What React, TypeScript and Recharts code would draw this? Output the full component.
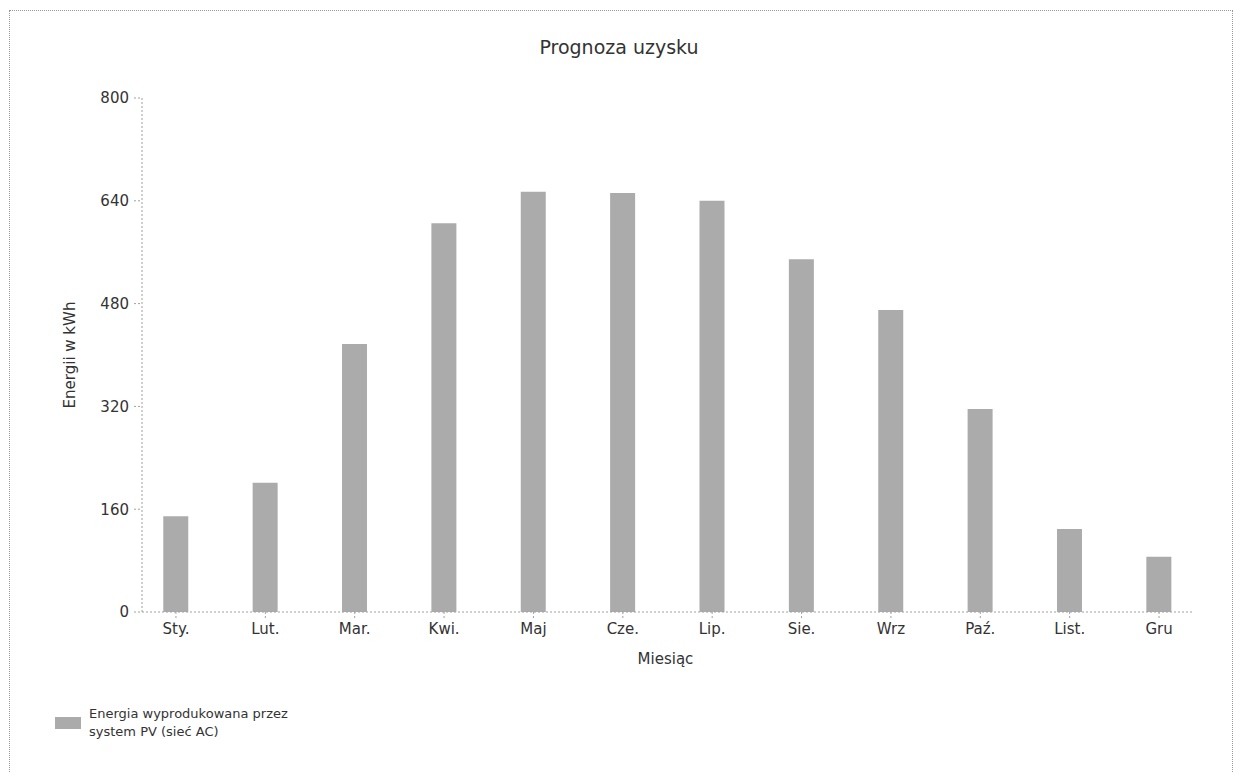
import React from "react";
import { BarChart, Bar, XAxis, YAxis } from "recharts";

const months = ["Sty.", "Lut.", "Mar.", "Kwi.", "Maj", "Cze.", "Lip.", "Sie.", "Wrz", "Paź.", "List.", "Gru"];
const energy = [149, 201, 417, 605, 654, 652, 640, 549, 470, 316, 129, 86];
const yTicks = [0, 160, 320, 480, 640, 800];
const monthIdx = months.map((_, i) => i);

const data = months.map((m, i) => ({ idx: i, month: m, energy: energy[i] }));

const FONT = "'DejaVu Sans', Verdana, sans-serif";
const TEXT = "#333";
const AXIS = "#a0a0a0";
const BAR = "#ababab";

const YLabel = (props: any) => {
	const { x, y, height } = props.viewBox;
	const cx = x + 70;
	const cy = y + height / 2;
	return (
		<text
			x={cx}
			y={cy}
			transform={`rotate(-90 ${cx} ${cy})`}
			textAnchor="middle"
			dominantBaseline="central"
			fill={TEXT}
			fontSize={15}
			fontFamily={FONT}
		>
			Energii w kWh
		</text>
	);
};

const XLabel = (props: any) => {
	const { x, y, width } = props.viewBox;
	return (
		<text
			x={x + width / 2 - 2}
			y={y + 47}
			textAnchor="middle"
			dominantBaseline="central"
			fill={TEXT}
			fontSize={15}
			fontFamily={FONT}
		>
			Miesiąc
		</text>
	);
};

export default function App() {
	return (
		<div style={{ position: "relative", width: 1238, height: 773, overflow: "hidden", background: "#fff", fontFamily: FONT }}>
			<style>{"body{margin:0}"}</style>
			<div
				style={{
					position: "absolute",
					left: 9,
					top: 10,
					width: 1224,
					height: 800,
					border: "1px dotted #999",
					boxSizing: "border-box",
				}}
			/>
			<div
				style={{
					position: "absolute",
					left: 0,
					top: 36,
					width: 1238,
					textAlign: "center",
					fontSize: 19,
					color: TEXT,
				}}
			>
				Prognoza uzysku
			</div>
			<BarChart width={1238} height={773} data={data} margin={{ top: 98, right: 45, bottom: 101, left: 0 }}>
				<XAxis
					dataKey="idx"
					type="number"
					domain={[-0.38, 11.38]}
					ticks={monthIdx}
					tickFormatter={(i: number) => months[i]}
					height={60}
					tickSize={6}
					tickMargin={5}
					stroke={AXIS}
					strokeDasharray="2 2"
					tick={{ fill: TEXT, fontSize: 15, fontFamily: FONT }}
					label={<XLabel />}
				/>
				<YAxis
					domain={[0, 800]}
					ticks={yTicks}
					width={142}
					tickSize={8}
					tickMargin={5}
					stroke={AXIS}
					strokeDasharray="2 2"
					tick={{ fill: TEXT, fontSize: 15, fontFamily: FONT }}
					label={<YLabel />}
				/>
				<Bar dataKey="energy" fill={BAR} barSize={25} isAnimationActive={false} />
			</BarChart>
			<div style={{ position: "absolute", left: 55, top: 705, display: "flex", alignItems: "center" }}>
				<div style={{ width: 26, height: 12, background: BAR, marginRight: 8 }} />
				<div style={{ fontSize: 13, lineHeight: "18px", color: TEXT }}>
					Energia wyprodukowana przez
					<br />
					system PV (sieć AC)
				</div>
			</div>
		</div>
	);
}
